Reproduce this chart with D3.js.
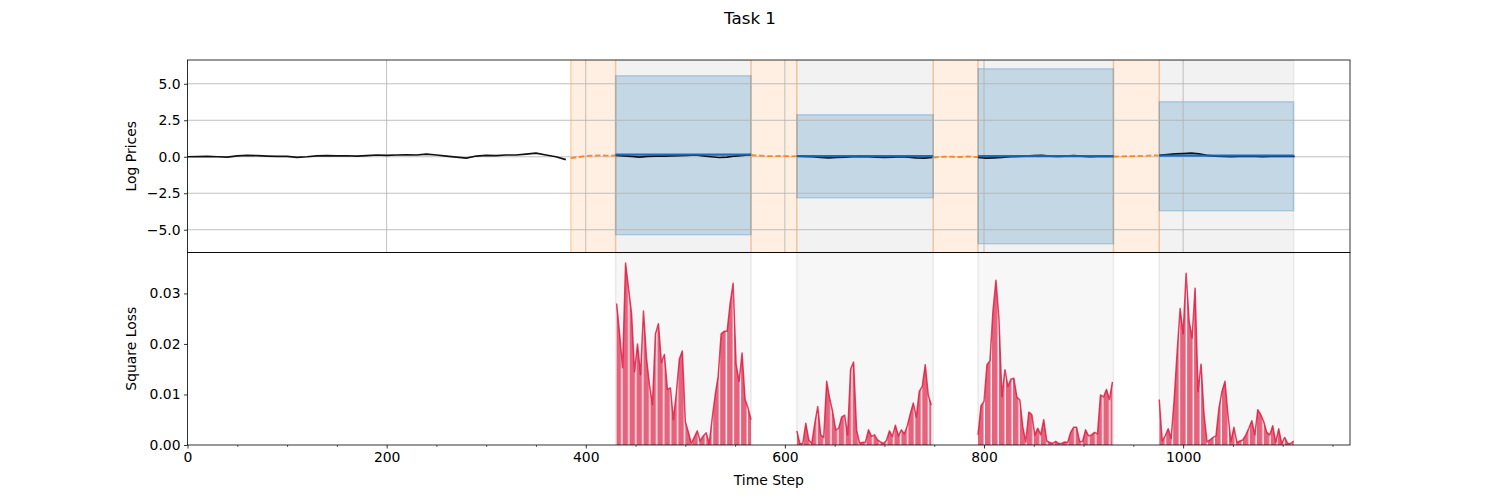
<!DOCTYPE html>
<html>
<head>
<meta charset="utf-8">
<script src="https://cdn.jsdelivr.net/npm/d3@7/dist/d3.min.js"></script>
<style>
  html, body { margin: 0; padding: 0; background: #fff; }
  svg { display: block; font-family: "DejaVu Sans", sans-serif; }
</style>
</head>
<body>
<svg id="chart" width="1500" height="500"></svg>
<script>
// ---------------- DATA ----------------
const title = "Task 1";
const xTicks = [0, 200, 400, 600, 800, 1000];
const xMinorTicks = [50, 100, 150, 250, 300, 350, 450, 500, 550, 650, 700, 750, 850, 900, 950, 1050, 1100, 1150];
const yTopTicks = [-5, -2.5, 0, 2.5, 5];
const yBotTicks = [0, 0.01, 0.02, 0.03];

// context prices (black), t = 0, 10, ..., 380
const contextStart = 0, contextStep = 10;
const contextPrices = [0.0, 0.01, 0.02, 0.0, -0.02, 0.06, 0.1, 0.08, 0.05, 0.03,
  0.02, -0.04, 0.0, 0.06, 0.08, 0.06, 0.07, 0.05, 0.08, 0.12,
  0.1, 0.12, 0.13, 0.12, 0.18, 0.12, 0.05, -0.02, -0.09, 0.05,
  0.1, 0.08, 0.12, 0.12, 0.18, 0.25, 0.12, 0.0, -0.2];

// training (orange) and test (grey) windows, in time steps
const trainWindows = [[385, 430], [566, 612], [749, 794], [930, 976]];
const testWindows = [[430, 566], [612, 749], [794, 930], [976, 1111]];

// orange dashed prices inside training windows, step 5 from window start
const trainStep = 5;
const trainPrices = [
  [-0.1, -0.05, 0.0, 0.05, 0.08, 0.08, 0.1, 0.08, 0.07, 0.1],
  [0.12, 0.1, 0.08, 0.05, 0.05, 0.04, 0.06, 0.05, 0.03, 0.05],
  [-0.05, -0.03, 0.0, 0.02, 0.0, -0.02, 0.0, 0.02, 0.0, -0.02],
  [0.0, 0.02, 0.03, 0.05, 0.04, 0.06, 0.05, 0.08, 0.1, 0.1]
];

// black prices inside test windows, step 8 from window start
const testStep = 8;
const testPrices = [
  [0.1, 0.06, 0.02, -0.02, 0.02, 0.05, 0.04, 0.06, 0.08, 0.1, 0.12, 0.06, 0.0, -0.05, -0.02, 0.05, 0.1, 0.15],
  [0.05, 0.02, 0.0, -0.05, -0.08, -0.05, -0.02, 0.0, 0.02, 0.0, -0.03, -0.05, -0.02, 0.0, -0.03, -0.08, -0.1, -0.05],
  [-0.05, -0.1, -0.08, -0.05, 0.0, 0.02, 0.05, 0.08, 0.1, 0.05, 0.02, 0.05, 0.08, 0.05, 0.0, 0.03, 0.05, 0.02],
  [0.1, 0.15, 0.2, 0.22, 0.25, 0.2, 0.1, 0.05, 0.02, 0.0, 0.03, 0.05, 0.02, 0.0, 0.02, 0.05, 0.03, 0.02]
];

// prediction (blue) per test window
const predMean = [0.15, 0.05, 0.05, 0.08];
const predLower = [-5.34, -2.81, -5.96, -3.70];
const predUpper = [5.55, 2.88, 6.03, 3.77];

// square loss per test window (values in units of 1e-3), step 3
const lossUnit = 1e-3;
const lossStep = 3;
const lossStart = [431, 612, 794, 976];
const lossW1 = [28, 22, 15.3, 36, 31, 26, 14.5, 20, 13.9, 26.5, 17.2, 11.9, 8, 22, 24, 16.3, 17.9, 11, 11.3, 5,
  10.3, 17, 18.6, 4.6, 2.6, 0.3, 1.5, 2.8, 0.8, 1.8, 2.4, 0.3, 5.3, 9.9, 13.6, 22, 22.5, 22.5, 28, 32,
  16, 12.6, 18.2, 9, 7.3, 5];
const lossW2 = [2.8, 0.3, 0.3, 4.3, 1.0, 0.3, 4.2, 7.6, 2.0, 1.5, 12.6, 9.2, 6.6, 3.0, 3.3, 5.5, 5.9, 2.0, 15.0, 16.4,
  3.0, 0.4, 0.5, 0.6, 3.0, 1.7, 2.0, 1.0, 0.6, 0.3, 0.9, 2.8, 1.7, 3.9, 1.8, 3.0, 2.2, 3.8, 6.2, 8.3,
  5.5, 10.6, 11.6, 15.9, 9.9, 7.9];
const lossW3 = [2.0, 7.8, 8.6, 15.9, 16.7, 26.5, 32.6, 25, 9.6, 14.9, 11.6, 13, 13.2, 9.5, 8.9, 3.5, 0.6, 6.5, 6.0, 2.0,
  3.3, 2.0, 5.0, 0.8, 0.5, 0.3, 0.7, 0.3, 0.3, 0.6, 0.5, 2.5, 3.5, 3.5, 0.7, 0.7, 3.0, 1.8, 2.0, 2.5,
  2.2, 9.9, 9.5, 11, 9.0, 12.5];
const lossW4 = [9.0, 0.8, 1.8, 3.2, 1.3, 9, 18.5, 27, 22, 34, 24.5, 21.2, 31, 10.6, 16, 6, 0.6, 1.0, 1.5, 1.8,
  7.3, 10.6, 12.6, 6, 0.7, 3.5, 0.5, 0.8, 1.0, 2.0, 3.3, 4.8, 2.0, 7, 6.0, 4.6, 2.5, 2.0, 3.8, 0.5,
  3.2, 0.3, 1.5, 0.3, 0.3, 0.8];
const lossWindows = [lossW1, lossW2, lossW3, lossW4];

// ---------------- LAYOUT ----------------
const L = 187.5, R = 1350, T = 60, M = 252.5, B = 445;
const svg = d3.select("#chart");
const x = d3.scaleLinear().domain([0, 1167.6]).range([L, R]);
const yTop = d3.scaleLinear().domain([-6.56, 6.63]).range([M, T]);
const yBot = d3.scaleLinear().domain([0, 0.0381]).range([B, M]);
const fmtTop = d3.format(".1f"), fmtBot = d3.format(".2f");
const FS = 13.9;

const defs = svg.append("defs");
defs.append("clipPath").attr("id", "clipTop").append("rect")
  .attr("x", L).attr("y", T).attr("width", R - L).attr("height", M - T);
defs.append("clipPath").attr("id", "clipBot").append("rect")
  .attr("x", L).attr("y", M).attr("width", R - L).attr("height", B - M);
const pat = defs.append("pattern").attr("id", "barStripes")
  .attr("patternUnits", "userSpaceOnUse")
  .attr("x", x(430)).attr("y", 0)
  .attr("width", x(7) - x(0)).attr("height", 500);
pat.append("rect").attr("x", 0).attr("y", 0)
  .attr("width", x(5.6) - x(0)).attr("height", 500)
  .attr("fill", "#dc143c").attr("fill-opacity", 0.65);

// ---------------- TOP PANEL ----------------
const gTop = svg.append("g").attr("clip-path", "url(#clipTop)");
gTop.selectAll("rect.test").data(testWindows).join("rect")
  .attr("x", d => x(d[0])).attr("width", d => x(d[1]) - x(d[0]))
  .attr("y", T).attr("height", M - T)
  .attr("fill", "#000").attr("fill-opacity", 0.05)
  .attr("stroke", "#000").attr("stroke-opacity", 0.06).attr("stroke-width", 1.5);
gTop.selectAll("rect.train").data(trainWindows).join("rect")
  .attr("x", d => x(d[0])).attr("width", d => x(d[1]) - x(d[0]))
  .attr("y", T - 2).attr("height", M - T + 4)
  .attr("fill", "#ff7f0e").attr("fill-opacity", 0.12)
  .attr("stroke", "#ff7f0e").attr("stroke-opacity", 0.3).attr("stroke-width", 1.5);
gTop.selectAll("rect.pred").data(testWindows).join("rect")
  .attr("x", d => x(d[0])).attr("width", d => x(d[1]) - x(d[0]))
  .attr("y", (d, i) => yTop(predUpper[i]))
  .attr("height", (d, i) => yTop(predLower[i]) - yTop(predUpper[i]))
  .attr("fill", "#1f77b4").attr("fill-opacity", 0.22)
  .attr("stroke", "#1f77b4").attr("stroke-opacity", 0.25).attr("stroke-width", 1.5);

gTop.selectAll("line.gx").data(xTicks).join("line")
  .attr("x1", d => x(d)).attr("x2", d => x(d)).attr("y1", T).attr("y2", M)
  .attr("stroke", "#b0b0b0").attr("stroke-width", 0.8);
gTop.selectAll("line.gy").data(yTopTicks).join("line")
  .attr("x1", L).attr("x2", R).attr("y1", d => yTop(d)).attr("y2", d => yTop(d))
  .attr("stroke", "#b0b0b0").attr("stroke-width", 0.8);

const lineTop = d3.line().x(d => x(d[0])).y(d => yTop(d[1]));
gTop.append("path")
  .datum(contextPrices.map((v, i) => [contextStart + i * contextStep, v]))
  .attr("d", lineTop).attr("fill", "none")
  .attr("stroke", "#111").attr("stroke-width", 1.7).attr("stroke-linejoin", "round");
trainPrices.forEach((arr, k) => {
  gTop.append("path")
    .datum(arr.map((v, i) => [trainWindows[k][0] + i * trainStep, v]))
    .attr("d", lineTop).attr("fill", "none")
    .attr("stroke", "#ff7f0e").attr("stroke-opacity", 0.9).attr("stroke-width", 1.8)
    .attr("stroke-dasharray", "5.5,2.6");
});
testPrices.forEach((arr, k) => {
  gTop.append("path")
    .datum(arr.map((v, i) => [testWindows[k][0] + i * testStep, v]))
    .attr("d", lineTop).attr("fill", "none")
    .attr("stroke", "#111").attr("stroke-width", 1.7).attr("stroke-linejoin", "round");
  gTop.append("path")
    .datum([[testWindows[k][0], predMean[k]], [testWindows[k][1], predMean[k]]])
    .attr("d", lineTop).attr("fill", "none")
    .attr("stroke", "#1565b8").attr("stroke-opacity", 0.95).attr("stroke-width", 2.2);
});

const axTopY = svg.append("g").attr("transform", `translate(${L},0)`)
  .call(d3.axisLeft(yTop).tickValues(yTopTicks).tickFormat(fmtTop).tickSize(3.5).tickPadding(3.5));
axTopY.select(".domain").remove();

svg.append("rect").attr("x", L).attr("y", T).attr("width", R - L).attr("height", M - T)
  .attr("fill", "none").attr("stroke", "#000").attr("stroke-width", 0.8);

// ---------------- BOTTOM PANEL ----------------
const gBot = svg.append("g").attr("clip-path", "url(#clipBot)");
gBot.selectAll("rect.test").data(testWindows).join("rect")
  .attr("x", d => x(d[0])).attr("width", d => x(d[1]) - x(d[0]))
  .attr("y", M).attr("height", B - M)
  .attr("fill", "#000").attr("fill-opacity", 0.03)
  .attr("stroke", "#000").attr("stroke-opacity", 0.07).attr("stroke-width", 1.5);

const areaBot = d3.area().x(d => x(d[0])).y0(yBot(0)).y1(d => yBot(d[1]));
const lineBot = d3.line().x(d => x(d[0])).y(d => yBot(d[1]));
lossWindows.forEach((arr, k) => {
  const pts = arr.map((v, i) => [lossStart[k] + i * lossStep, v * lossUnit]);
  gBot.append("path").datum(pts).attr("d", areaBot).attr("fill", "url(#barStripes)");
  gBot.append("path").datum(pts).attr("d", lineBot).attr("fill", "none")
    .attr("stroke", "#dc143c").attr("stroke-opacity", 0.8).attr("stroke-width", 1.5)
    .attr("stroke-linejoin", "round");
});

const axBotY = svg.append("g").attr("transform", `translate(${L},0)`)
  .call(d3.axisLeft(yBot).tickValues(yBotTicks).tickFormat(fmtBot).tickSize(3.5).tickPadding(3.5));
axBotY.select(".domain").remove();

const axBotX = svg.append("g").attr("transform", `translate(0,${B})`)
  .call(d3.axisBottom(x).tickValues(xTicks).tickFormat(d3.format("d")).tickSize(3.5).tickPadding(3.5));
axBotX.select(".domain").remove();
const axBotXm = svg.append("g").attr("transform", `translate(0,${B})`)
  .call(d3.axisBottom(x).tickValues(xMinorTicks).tickFormat("").tickSize(2));
axBotXm.select(".domain").remove();
axBotXm.selectAll("line").attr("stroke-width", 0.6);

svg.append("rect").attr("x", L).attr("y", M).attr("width", R - L).attr("height", B - M)
  .attr("fill", "none").attr("stroke", "#000").attr("stroke-width", 0.8);

svg.selectAll(".tick text").attr("font-size", FS).attr("fill", "#000")
  .attr("font-family", "DejaVu Sans, sans-serif");
svg.selectAll(".tick line").attr("stroke", "#000");
axBotX.selectAll(".tick line").attr("stroke-width", 0.8);
axTopY.selectAll(".tick line").attr("stroke-width", 0.8);
axBotY.selectAll(".tick line").attr("stroke-width", 0.8);

svg.append("text").attr("x", 750).attr("y", 24).attr("text-anchor", "middle")
  .attr("font-size", 16.7).text(title);
svg.append("text").attr("transform", `translate(136,${(T + M) / 2}) rotate(-90)`)
  .attr("text-anchor", "middle").attr("font-size", FS).text("Log Prices");
svg.append("text").attr("transform", `translate(136,${(M + B) / 2}) rotate(-90)`)
  .attr("text-anchor", "middle").attr("font-size", FS).text("Square Loss");
svg.append("text").attr("x", (L + R) / 2).attr("y", 485).attr("text-anchor", "middle")
  .attr("font-size", FS).text("Time Step");
</script>
</body>
</html>
